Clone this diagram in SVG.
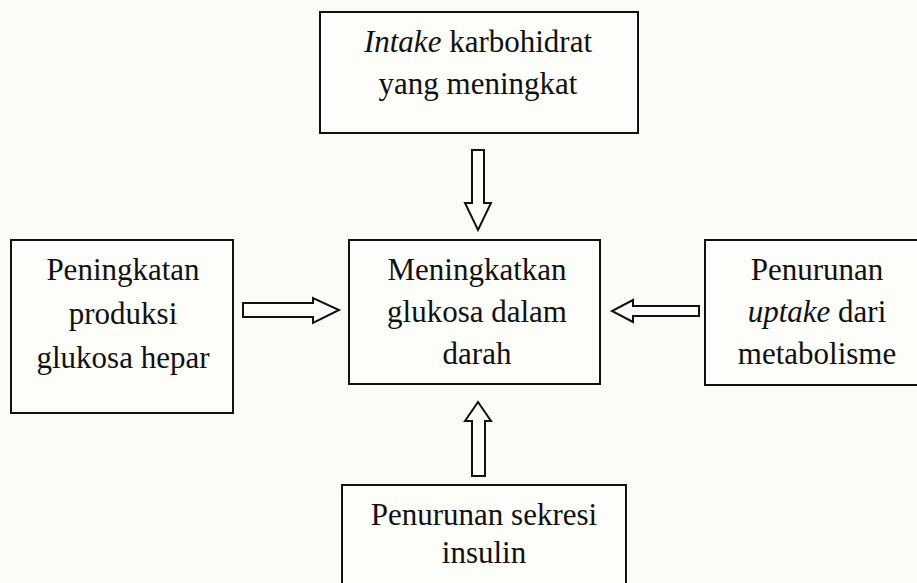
<svg xmlns="http://www.w3.org/2000/svg" width="917" height="583" viewBox="0 0 917 583">
<style>
.box{fill:#fdfdf9;stroke:#111;stroke-width:2}
.arr{fill:#fdfdf9;stroke:#111;stroke-width:2;stroke-linejoin:miter}
text{font-family:"Liberation Serif","Times New Roman",serif;font-size:31px;fill:#111;text-anchor:middle}
.i{font-style:italic}
</style>
<rect x="0" y="0" width="917" height="583" fill="#fcfcf7"/>
<g id="top">
<rect class="box" x="320" y="12" width="318" height="121"/>
<text x="478" y="52"><tspan class="i">Intake</tspan> karbohidrat</text>
<text x="478" y="94">yang meningkat</text>
</g>
<g id="left">
<rect class="box" x="11" y="240" width="222" height="173"/>
<text x="123" y="280">Peningkatan</text>
<text x="123" y="324">produksi</text>
<text x="123" y="368">glukosa hepar</text>
</g>
<g id="center">
<rect class="box" x="349" y="240" width="251" height="144"/>
<text x="477" y="280">Meningkatkan</text>
<text x="477" y="322">glukosa dalam</text>
<text x="477" y="364">darah</text>
</g>
<g id="right">
<rect class="box" x="705" y="240" width="220" height="145"/>
<text x="817" y="280">Penurunan</text>
<text x="817" y="322"><tspan class="i">uptake</tspan> dari</text>
<text x="817" y="364">metabolisme</text>
</g>
<g id="bottom">
<rect class="box" x="342" y="485" width="284" height="110"/>
<text x="484" y="525">Penurunan sekresi</text>
<text x="484" y="563">insulin</text>
</g>
<g id="connectors">
<polygon class="arr" points="472,150 484,150 484,203 491,203 478,230 465,203 472,203"/>
<polygon class="arr" points="243,303 313,303 313,298 339,310 313,323 313,317 243,317"/>
<polygon class="arr" points="699,306 633,306 633,300 612,311 633,322 633,316 699,316"/>
<polygon class="arr" points="472,476 485,476 485,421 491,421 478,402 465,421 472,421"/>
</g>
</svg>
